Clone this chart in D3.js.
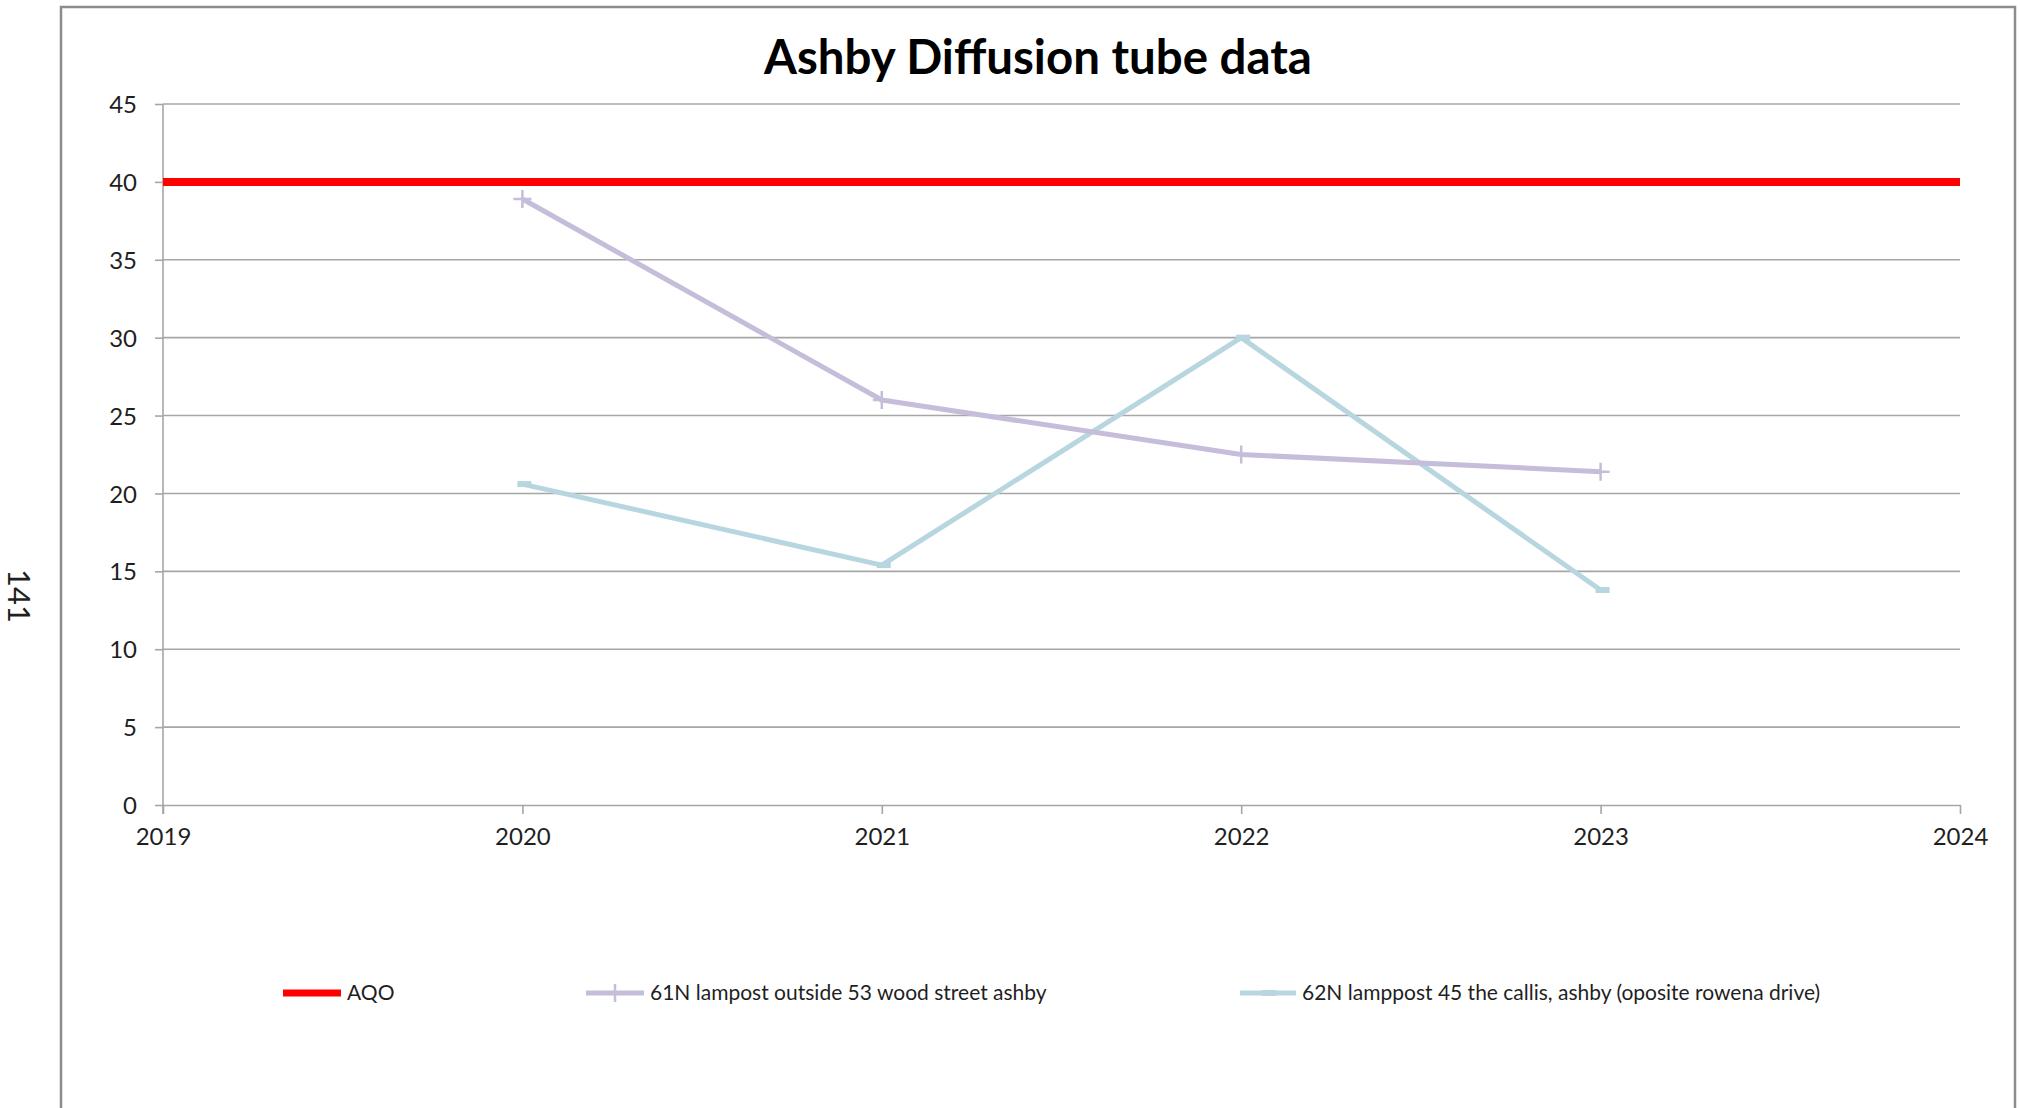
<!DOCTYPE html>
<html>
<head>
<meta charset="utf-8">
<script src="https://cdn.jsdelivr.net/npm/d3@7"></script>
<style>
  html, body { margin: 0; padding: 0; background: #ffffff; }
  svg { display: block; font-family: Lato, "Open Sans", sans-serif; }
</style>
</head>
<body>
<svg id="chart" width="2020" height="1108"></svg>
<script>
// Annual mean NO2 (µg/m³) from the Ashby diffusion tubes
const years = [2020, 2021, 2022, 2023];
const tube61N = [38.9, 26.0, 22.5, 21.4];
const tube62N = [20.6, 15.4, 30.0, 13.8];

// Air Quality Objective, drawn across the full year range
const aqoYears = [2019, 2020, 2021, 2022, 2023, 2024];
const aqoValues = [40, 40, 40, 40, 40, 40];

const xTickValues = [2019, 2020, 2021, 2022, 2023, 2024];
const yTickValues = [0, 5, 10, 15, 20, 25, 30, 35, 40, 45];

const seriesNames = [
  "AQO",
  "61N lampost outside 53 wood street ashby",
  "62N lamppost 45 the callis, ashby (oposite rowena drive)"
];
const chartTitle = "Ashby Diffusion tube data";
const pageNumber = "141";

const colors = { aqo: "#ff0000", s61: "#c5bdd9", s62: "#b7d6df", grid: "#a6a6a6", text: "#1f1f1f" };

const svg = d3.select("#chart");

// chart frame
svg.append("rect")
  .attr("x", 61).attr("y", 7).attr("width", 1954).attr("height", 1130)
  .attr("fill", "#fff").attr("stroke", "#8c8c8c").attr("stroke-width", 2.5);

// page number on the margin
svg.append("text")
  .attr("transform", "translate(8,596) rotate(90)")
  .attr("text-anchor", "middle")
  .attr("font-size", 31)
  .attr("fill", colors.text)
  .text(pageNumber);

const x = d3.scaleLinear().domain([2019, 2024]).range([163, 1960]);
const y = d3.scaleLinear().domain([0, 45]).range([805, 104]);

// title, fitted to its width
const title = svg.append("text")
  .attr("x", 1038).attr("y", 74)
  .attr("text-anchor", "middle")
  .attr("font-weight", 700)
  .attr("font-size", 40)
  .attr("fill", "#000")
  .text(chartTitle);
{
  const w = title.node().getComputedTextLength();
  title.attr("font-size", 40 * 548 / w);
}

// horizontal gridlines
svg.append("g").selectAll("line")
  .data(yTickValues.filter(v => v > 0))
  .join("line")
  .attr("x1", x(2019)).attr("x2", x(2024))
  .attr("y1", d => y(d)).attr("y2", d => y(d))
  .attr("stroke", colors.grid).attr("stroke-width", 1.6);

// y axis
const yAxis = svg.append("g")
  .attr("transform", `translate(${x(2019)},0)`)
  .call(d3.axisLeft(y).tickValues(yTickValues).tickSize(8).tickSizeOuter(0).tickPadding(18));
yAxis.select(".domain").attr("stroke", colors.grid).attr("stroke-width", 1.6)
  .attr("d", `M0,${y(45)}V${y(0) + 9}`);
yAxis.selectAll(".tick line").attr("stroke", colors.grid).attr("stroke-width", 1.6);
yAxis.selectAll(".tick text")
  .attr("font-size", 24).attr("fill", colors.text).attr("font-family", "Lato, sans-serif")
  .attr("dy", "0.36em");

// x axis
const xAxis = svg.append("g")
  .attr("transform", `translate(0,${y(0)})`)
  .call(d3.axisBottom(x).tickValues(xTickValues).tickFormat(d3.format("d")).tickSize(9).tickSizeOuter(0).tickPadding(14));
xAxis.select(".domain").attr("stroke", colors.grid).attr("stroke-width", 1.6);
xAxis.selectAll(".tick line").attr("stroke", colors.grid).attr("stroke-width", 1.6);
xAxis.selectAll(".tick text")
  .attr("font-size", 24).attr("fill", colors.text).attr("font-family", "Lato, sans-serif");

const line = d3.line().x(d => x(d[0])).y(d => y(d[1]));

// AQO line
svg.append("path")
  .datum(d3.zip(aqoYears, aqoValues))
  .attr("d", line)
  .attr("fill", "none").attr("stroke", colors.aqo).attr("stroke-width", 8);

// 62N series (short-dash markers)
const s62 = d3.zip(years, tube62N);
svg.append("path")
  .datum(s62).attr("d", line)
  .attr("fill", "none").attr("stroke", colors.s62).attr("stroke-width", 5)
  .attr("stroke-linejoin", "round");
svg.append("g").selectAll("rect")
  .data(s62).join("rect")
  .attr("x", d => x(d[0]) - 5).attr("y", d => y(d[1]) - 3)
  .attr("width", 14).attr("height", 6)
  .attr("fill", colors.s62);

// 61N series (plus markers)
const s61 = d3.zip(years, tube61N);
svg.append("path")
  .datum(s61).attr("d", line)
  .attr("fill", "none").attr("stroke", colors.s61).attr("stroke-width", 5)
  .attr("stroke-linejoin", "round");
svg.append("g").selectAll("path")
  .data(s61).join("path")
  .attr("transform", d => `translate(${x(d[0])},${y(d[1])})`)
  .attr("d", "M-9,0H9M0,-9V9")
  .attr("stroke", colors.s61).attr("stroke-width", 2.5).attr("fill", "none");

// legend
const legendY = 993;
const legendItems = [
  { name: seriesNames[0], x0: 283, x1: 341, color: colors.aqo, width: 7, marker: null },
  { name: seriesNames[1], x0: 586, x1: 644, color: colors.s61, width: 5, marker: "plus" },
  { name: seriesNames[2], x0: 1240, x1: 1296, color: colors.s62, width: 5, marker: "dash" }
];
const lg = svg.append("g").selectAll("g").data(legendItems).join("g");
lg.append("line")
  .attr("x1", d => d.x0).attr("x2", d => d.x1)
  .attr("y1", legendY).attr("y2", legendY)
  .attr("stroke", d => d.color).attr("stroke-width", d => d.width);
lg.filter(d => d.marker === "plus").append("path")
  .attr("transform", d => `translate(${(d.x0 + d.x1) / 2},${legendY})`)
  .attr("d", "M-9,0H9M0,-9V9")
  .attr("stroke", d => d.color).attr("stroke-width", 2.5);
lg.filter(d => d.marker === "dash").append("rect")
  .attr("x", d => (d.x0 + d.x1) / 2 - 6).attr("y", legendY - 3)
  .attr("width", 14).attr("height", 6).attr("fill", d => d.color);
lg.append("text")
  .attr("x", d => d.x1 + 6).attr("y", legendY)
  .attr("dy", "0.35em")
  .attr("font-size", 21).attr("fill", colors.text)
  .text(d => d.name);
</script>
</body>
</html>
